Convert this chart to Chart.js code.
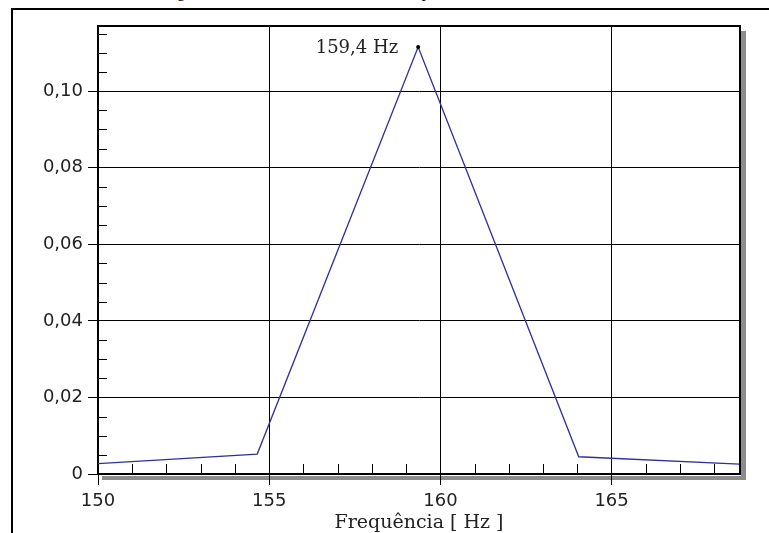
<!DOCTYPE html>
<html>
<head>
<meta charset="utf-8">
<script src="https://cdn.jsdelivr.net/npm/chart.js@4"></script>
<style>
  html, body { margin: 0; padding: 0; background: #fff; }
  #wrap { position: relative; width: 769px; height: 533px; overflow: hidden; }
  #frame { position: absolute; left: 11px; top: 8px; width: 900px; height: 700px;
           border-left: 2px solid #000; border-top: 2px solid #000; }
  #caption { position: absolute; left: 164px; top: -16px; font: 16px "Liberation Serif", serif;
             line-height: 16px; white-space: nowrap; color: #000; }
  canvas { position: absolute; left: 0; top: 0; }
</style>
</head>
<body>
<div id="wrap">
  <div id="caption">Figura 6 – Resultado da transformada rápida de Fourier, ensaio 1</div>
  <div id="frame"></div>
  <canvas id="chart" width="769" height="533"></canvas>
</div>
<script>
// valores
const freqHz = [149.96, 154.65, 159.35, 164.04, 168.73];
const amplitude = [0.0027, 0.0052, 0.1115, 0.0045, 0.0026];
const xTicks = [150, 155, 160, 165];
const yTicks = [0, 0.02, 0.04, 0.06, 0.08, 0.10];
const peakLabel = "159,4 Hz";
const xTitle = "Frequência [ Hz ]";

const X_MIN = 150, X_MAX = 168.75, Y_MIN = 0, Y_MAX = 0.117;

const peakIdx = amplitude.indexOf(Math.max(...amplitude));

const decor = {
  id: "decor",
  beforeDraw(chart) {
    const { ctx, chartArea: a } = chart;
    ctx.save();
    ctx.fillStyle = "#8c8c8c";
    ctx.fillRect(a.right + 1, a.top + 5, 5, a.bottom - a.top);
    ctx.fillRect(a.left + 4, a.bottom + 2, a.right - a.left + 2, 4);
    ctx.restore();
  },
  afterDatasetsDraw(chart) {
    const { ctx, chartArea: a, scales } = chart;
    const x = scales.x, y = scales.y;
    ctx.save();
    ctx.strokeStyle = "#000";
    ctx.lineWidth = 1;
    // minor ticks
    ctx.beginPath();
    for (let v = X_MIN + 1; v < X_MAX; v += 1) {
      if (Math.abs(v % 5) < 1e-6) continue;
      const px = Math.round(x.getPixelForValue(v)) + 0.5;
      ctx.moveTo(px, a.bottom);
      ctx.lineTo(px, a.bottom - 10);
    }
    for (let i = 1; i * 0.005 < Y_MAX; i++) {
      if (i % 4 === 0) continue;
      const py = Math.round(y.getPixelForValue(i * 0.005)) + 0.5;
      ctx.moveTo(a.left, py);
      ctx.lineTo(a.left + 9, py);
    }
    ctx.stroke();
    // top / right border
    ctx.lineWidth = 2;
    ctx.beginPath();
    ctx.moveTo(a.left, a.top);
    ctx.lineTo(a.right, a.top);
    ctx.lineTo(a.right, a.bottom);
    ctx.stroke();
    // peak label
    const px = x.getPixelForValue(freqHz[peakIdx]);
    const py = y.getPixelForValue(amplitude[peakIdx]);
    ctx.fillStyle = "#222";
    ctx.font = '18px "DejaVu Serif"';
    ctx.textAlign = "right";
    ctx.textBaseline = "alphabetic";
    ctx.fillText(peakLabel, px - 20, py + 6);
    ctx.restore();
  }
};

new Chart(document.getElementById("chart"), {
  type: "line",
  data: {
    datasets: [{
      data: freqHz.map((f, i) => ({ x: f, y: amplitude[i] })),
      borderColor: "#30309a",
      borderWidth: 1.3,
      tension: 0,
      pointRadius: amplitude.map((_, i) => (i === peakIdx ? 2 : 0)),
      pointBackgroundColor: "#000",
      pointBorderWidth: 0
    }]
  },
  options: {
    responsive: false,
    animation: false,
    layout: { padding: { top: 26, right: 29, left: 0, bottom: 0 } },
    plugins: { legend: { display: false }, tooltip: { enabled: false } },
    scales: {
      x: {
        type: "linear",
        min: X_MIN, max: X_MAX,
        afterBuildTicks: (s) => { s.ticks = xTicks.map((v) => ({ value: v })); },
        afterFit: (s) => { s.height = 59; },
        grid: { color: "#000", lineWidth: 1, tickLength: 11 },
        border: { display: true, color: "#000", width: 2 },
        ticks: {
          color: "#222", padding: 6, maxRotation: 0,
          font: { family: "DejaVu Sans", size: 18 },
          callback: (v) => String(v)
        },
        title: {
          display: true, text: xTitle, color: "#222",
          font: { family: "DejaVu Serif", size: 19, lineHeight: 1 },
          padding: { top: 0, bottom: 0 }
        }
      },
      y: {
        min: Y_MIN, max: Y_MAX,
        afterBuildTicks: (s) => { s.ticks = yTicks.map((v) => ({ value: v })); },
        afterFit: (s) => { s.width = 98; },
        grid: { color: "#000", lineWidth: 1, tickLength: 10 },
        border: { display: true, color: "#000", width: 2 },
        ticks: {
          color: "#222", padding: 5,
          font: { family: "DejaVu Sans", size: 18 },
          callback: (v) => (v === 0 ? "0" : v.toFixed(2).replace(".", ","))
        }
      }
    }
  },
  plugins: [decor]
});
</script>
</body>
</html>
